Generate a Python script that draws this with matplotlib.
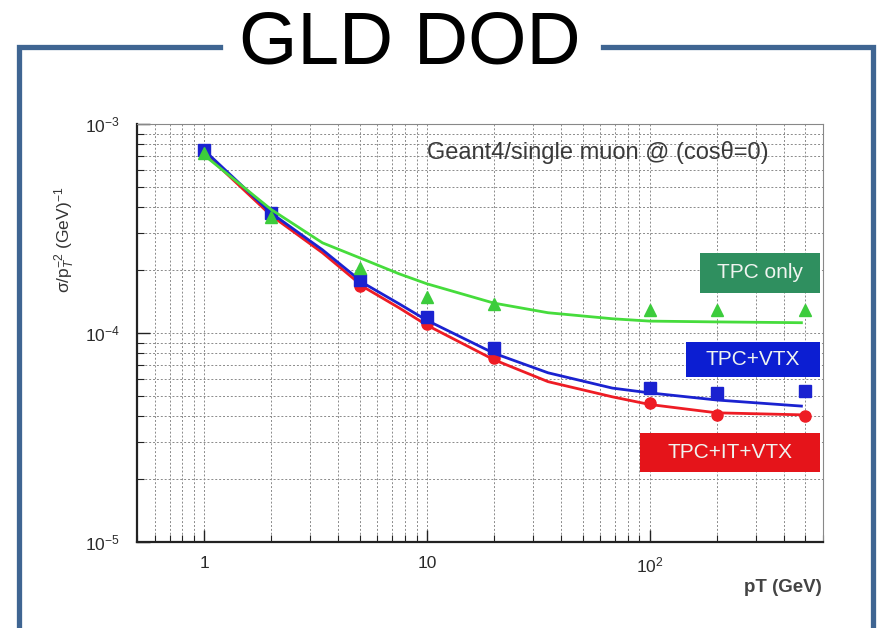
import matplotlib
matplotlib.use("Agg")
import matplotlib.pyplot as plt
from matplotlib import font_manager
from matplotlib.lines import Line2D
from matplotlib.patches import Rectangle
from matplotlib.ticker import FixedLocator, NullFormatter

plt.rcParams["font.family"] = ["Liberation Sans", "DejaVu Sans"]
plt.rcParams["mathtext.fontset"] = "custom"
plt.rcParams["mathtext.rm"] = "Liberation Sans"
plt.rcParams["mathtext.it"] = "Liberation Sans:italic"

# measured points (single muon, cos(theta)=0)
pt = [1, 2, 5, 10, 20, 100, 200, 500]
tpc_only = [7.3e-4, 3.6e-4, 2.05e-4, 1.49e-4, 1.38e-4, 1.29e-4, 1.29e-4, 1.29e-4]
tpc_vtx = [7.5e-4, 3.75e-4, 1.8e-4, 1.19e-4, 8.5e-5, 5.45e-5, 5.15e-5, 5.3e-5]
tpc_it_vtx = [7.3e-4, 3.65e-4, 1.68e-4, 1.1e-4, 7.6e-5, 4.6e-5, 4.06e-5, 4.02e-5]

# fitted resolution curves
fit_pt = [1, 2, 3.4, 5.2, 7.5, 10, 20, 35, 68, 100, 200, 480]
fit_tpc_only = [7.1e-4, 3.9e-4, 2.7e-4, 2.25e-4, 1.92e-4, 1.72e-4, 1.39e-4, 1.25e-4,
                1.17e-4, 1.14e-4, 1.13e-4, 1.12e-4]
fit_tpc_vtx = [7.5e-4, 3.75e-4, 2.5e-4, 1.73e-4, 1.38e-4, 1.15e-4, 8.0e-5, 6.45e-5,
               5.45e-5, 5.17e-5, 4.78e-5, 4.47e-5]
fit_tpc_it_vtx = [7.3e-4, 3.65e-4, 2.42e-4, 1.66e-4, 1.32e-4, 1.09e-4, 7.45e-5, 5.85e-5,
                  4.95e-5, 4.55e-5, 4.15e-5, 4.06e-5]

x_ticks = [1, 10, 100]
x_tick_labels = ["1", "10", "$10^{2}$"]
y_ticks = [1e-5, 1e-4, 1e-3]
y_tick_labels = ["$10^{-5}$", "$10^{-4}$", "$10^{-3}$"]

FRAME = "#3f6592"
W, H = 878, 628


def narrow_family():
    for name in ("Liberation Sans Narrow", "Arial Narrow"):
        try:
            font_manager.findfont(name, fallback_to_default=False)
            return name
        except ValueError:
            pass
    return None


fig = plt.figure(figsize=(W / 100, H / 100), dpi=100)
ax = fig.add_axes([137 / W, 1 - 542 / H, (823 - 137) / W, (542 - 124) / H])

ax.set_xscale("log")
ax.set_yscale("log")
ax.set_xlim(0.5, 600)
ax.set_ylim(1e-5, 1e-3)

ax.plot(fit_pt, fit_tpc_it_vtx, color="#ee1c24", lw=2.0, zorder=3)
ax.plot(pt, tpc_it_vtx, "o", color="#ee1c24", ms=8, zorder=4)
ax.plot(fit_pt, fit_tpc_vtx, color="#1a22d0", lw=2.0, zorder=5)
ax.plot(pt, tpc_vtx, "s", color="#1a22d0", ms=8.5, zorder=6)
ax.plot(fit_pt, fit_tpc_only, color="#46dc3c", lw=2.0, zorder=7)
ax.plot(pt, tpc_only, "^", color="#3ccc3c", ms=8, zorder=8)

# axis decoration
ax.xaxis.set_major_locator(FixedLocator(x_ticks))
ax.set_xticklabels(x_tick_labels)
ax.xaxis.set_minor_formatter(NullFormatter())
ax.yaxis.set_major_locator(FixedLocator(y_ticks))
ax.set_yticklabels(y_tick_labels)
ax.yaxis.set_minor_formatter(NullFormatter())
ax.tick_params(which="both", direction="in", colors="#222222", labelcolor="#2a2a2a",
               labelsize=12.5)
ax.tick_params(which="major", length=9, width=1.0)
ax.tick_params(which="minor", length=5, width=0.8)
ax.tick_params(axis="x", pad=10)
ax.tick_params(axis="y", pad=12)
ax.grid(True, which="both", color="#8a8a8a", lw=0.7, linestyle=(0, (2, 2)))
ax.set_axisbelow(True)
for side in ("left", "bottom"):
    ax.spines[side].set_linewidth(1.6)
    ax.spines[side].set_color("#222222")
for side in ("top", "right"):
    ax.spines[side].set_linewidth(0.8)
    ax.spines[side].set_color("#888888")

fig.text(427 / W, 1 - 153 / H, "Geant4/single muon @ (cosθ=0)", fontsize=17,
         color="#3a3a3a", ha="left", va="center")

# coloured legend boxes
boxes = [
    ("TPC only", 700, 253, 820, 293, "#2f8f5f"),
    ("TPC+VTX", 686, 342, 820, 377, "#0c1ed2"),
    ("TPC+IT+VTX", 640, 433, 820, 472, "#e5141a"),
]
for label, x0, y0, x1, y1, color in boxes:
    fig.patches.append(Rectangle((x0 / W, 1 - y1 / H), (x1 - x0) / W, (y1 - y0) / H,
                                 transform=fig.transFigure, facecolor=color,
                                 edgecolor="none", zorder=10))
    fig.text((x0 + x1) / 2 / W, 1 - (y0 + y1) / 2 / H, label, fontsize=15,
             color="#f0f4f0", ha="center", va="center", zorder=11)

fig.text(65 / W, 1 - 240 / H, r"σ/p$_{T}^{-2}$ (GeV)$^{-1}$", rotation=90,
         fontsize=12.5, color="#333333", ha="center", va="center")
fig.text(822 / W, 1 - 587 / H, "pT (GeV)", fontsize=13.5, fontweight="bold",
         color="#444444", ha="right", va="center")

# slide frame and title
frame_lines = [
    ([19.5, 19.5, 220], [H + 5, 46.5, 46.5]),
    ([603, 873.5, 873.5], [46.5, 46.5, H + 5]),
]
for xs, ys in frame_lines:
    fig.lines.append(Line2D([x / W for x in xs], [1 - y / H for y in ys],
                            transform=fig.transFigure, color=FRAME, lw=3.8,
                            solid_joinstyle="miter"))
narrow = narrow_family()
if narrow:
    fig.text(410 / W, 1 - 44 / H, "GLD DOD", fontsize=62, family=narrow,
             color="black", ha="center", va="center")
else:
    fig.text(410 / W, 1 - 44 / H, "GLD DOD", fontsize=54, color="black",
             ha="center", va="center")

fig.savefig("out.png", dpi=100)
